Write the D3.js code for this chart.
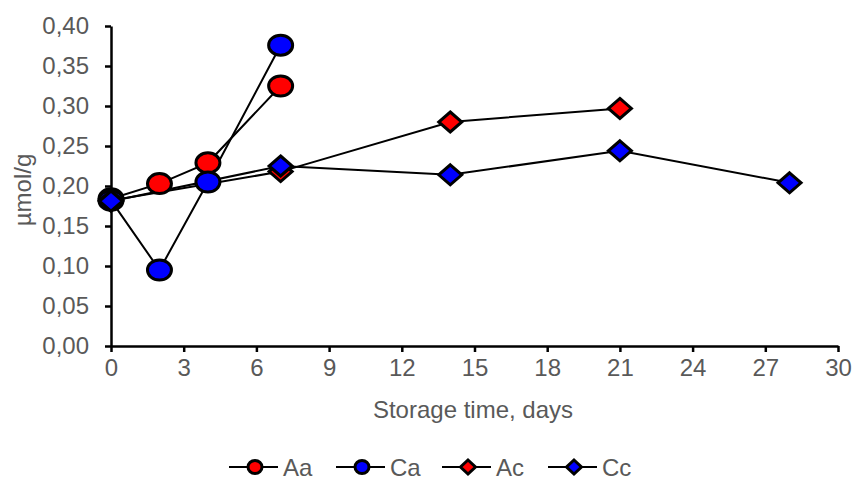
<!DOCTYPE html>
<html>
<head>
<meta charset="utf-8">
<script src="https://cdn.jsdelivr.net/npm/d3@7"></script>
<style>
  body { margin: 0; background: #fff; }
  svg text { font-family: 'Liberation Sans', Arial, sans-serif; fill: #595959; }
</style>
</head>
<body>
<div class="chart-line"></div>
<script>
'use strict';

// data
var xTicks = [0, 3, 6, 9, 12, 15, 18, 21, 24, 27, 30];
var yTicks = [0, 0.05, 0.10, 0.15, 0.20, 0.25, 0.30, 0.35, 0.40];

var daysA = [0, 2, 4, 7];
var valuesAa = [0.184, 0.203, 0.229, 0.325];
var valuesCa = [0.182, 0.095, 0.205, 0.376];

var daysAc = [0, 7, 14, 21];
var valuesAc = [0.182, 0.218, 0.280, 0.297];
var daysCc = [0, 7, 14, 21, 28];
var valuesCc = [0.181, 0.225, 0.214, 0.244, 0.204];

var seriesNames = ['Aa', 'Ca', 'Ac', 'Cc'];
var seriesColors = ['#ff0000', '#0000ff', '#ff0000', '#0000ff'];
var seriesShapes = ['circle', 'circle', 'diamond', 'diamond'];

function Chart(el) {
  this.el = el;
  this.width = 854;
  this.height = 480;
  this.margin = {top: 26, right: 16, bottom: 134, left: 111};
  this.fontSize = '24px';
  this.series = [
    {name: seriesNames[0], x: daysA, y: valuesAa},
    {name: seriesNames[1], x: daysA, y: valuesCa},
    {name: seriesNames[2], x: daysAc, y: valuesAc},
    {name: seriesNames[3], x: daysCc, y: valuesCc}
  ];
  this.svg = this.createSVG();
  this.appendScales();
  this.plotData();
  this.appendLegend();
}

Chart.prototype = {
  createSVG: function () {
    return d3.select(this.el)
      .append('svg')
      .attr('width', this.width)
      .attr('height', this.height);
  },
  appendScales: function () {
    var self = this;
    var m = this.margin;
    this.xScale = d3.scaleLinear()
      .domain([0, 30])
      .range([m.left, this.width - m.right]);
    this.yScale = d3.scaleLinear()
      .domain([0, 0.40])
      .range([this.height - m.bottom, m.top]);

    var xAxis = this.svg.append('g')
      .attr('transform', 'translate(0,' + (this.height - m.bottom) + ')')
      .call(d3.axisBottom(this.xScale)
        .tickValues(xTicks)
        .tickSize(6)
        .tickSizeOuter(0)
        .tickPadding(7));
    var yAxis = this.svg.append('g')
      .attr('transform', 'translate(' + m.left + ',0)')
      .call(d3.axisLeft(this.yScale)
        .tickValues(yTicks)
        .tickSize(6)
        .tickSizeOuter(0)
        .tickPadding(16)
        .tickFormat(function (d) { return d3.format('.2f')(d).replace('.', ','); }));

    [xAxis, yAxis].forEach(function (g) {
      g.select('.domain').attr('stroke', '#000').attr('stroke-width', 2.5);
      g.selectAll('.tick line').attr('stroke', '#000').attr('stroke-width', 2.5);
      g.selectAll('.tick text')
        .attr('fill', '#595959')
        .style('font-size', self.fontSize)
        .style('font-family', "'Liberation Sans', Arial, sans-serif");
    });

    this.svg.append('text')
      .attr('text-anchor', 'middle')
      .attr('x', 473)
      .attr('y', 418)
      .style('font-size', this.fontSize)
      .text('Storage time, days');

    this.svg.append('text')
      .attr('text-anchor', 'middle')
      .attr('transform', 'translate(31,' + 190 + ')rotate(-90)')
      .style('font-size', this.fontSize)
      .text('µmol/g');
  },
  marker: function (sel, shape, color, rx, ry) {
    if (shape === 'circle') {
      sel.append('ellipse')
        .attr('rx', rx)
        .attr('ry', ry)
        .attr('fill', color)
        .attr('stroke', '#000')
        .attr('stroke-width', 3);
    } else {
      sel.append('path')
        .attr('d', 'M0,' + (-ry) + 'L' + rx + ',0L0,' + ry + 'L' + (-rx) + ',0Z')
        .attr('fill', color)
        .attr('stroke', '#000')
        .attr('stroke-width', 3)
        .attr('stroke-linejoin', 'miter');
    }
  },
  plotData: function () {
    var self = this;
    var line = d3.line()
      .x(function (d) { return self.xScale(d[0]); })
      .y(function (d) { return self.yScale(d[1]); });

    this.series.forEach(function (s) {
      var pts = s.x.map(function (x, j) { return [x, s.y[j]]; });
      self.svg.append('path')
        .datum(pts)
        .attr('fill', 'none')
        .attr('stroke', '#000')
        .attr('stroke-width', 2)
        .attr('d', line);
    });
    this.series.forEach(function (s, i) {
      var pts = s.x.map(function (x, j) { return [x, s.y[j]]; });
      self.svg.selectAll(null)
        .data(pts)
        .enter()
        .append('g')
        .attr('transform', function (d) { return 'translate(' + self.xScale(d[0]) + ',' + self.yScale(d[1]) + ')'; })
        .each(function () {
          if (seriesShapes[i] === 'circle') {
            self.marker(d3.select(this), 'circle', seriesColors[i], 12, 10);
          } else {
            self.marker(d3.select(this), 'diamond', seriesColors[i], 11.5, 10);
          }
        });
    });
  },
  appendLegend: function () {
    var self = this;
    var starts = [229, 336, 442, 548];
    var y = 467;
    seriesNames.forEach(function (name, i) {
      var g = self.svg.append('g').attr('transform', 'translate(' + starts[i] + ',' + y + ')');
      g.append('line')
        .attr('x1', 0).attr('x2', 49)
        .attr('stroke', '#000')
        .attr('stroke-width', 2);
      var mk = g.append('g').attr('transform', 'translate(26,0)');
      if (seriesShapes[i] === 'circle') {
        self.marker(mk, 'circle', seriesColors[i], 7, 6.5);
      } else {
        self.marker(mk, 'diamond', seriesColors[i], 7.5, 7);
      }
      g.append('text')
        .attr('x', 54)
        .attr('y', 9)
        .style('font-size', self.fontSize)
        .text(name);
    });
  }
};

new Chart(document.querySelector('.chart-line'));
</script>
</body>
</html>
